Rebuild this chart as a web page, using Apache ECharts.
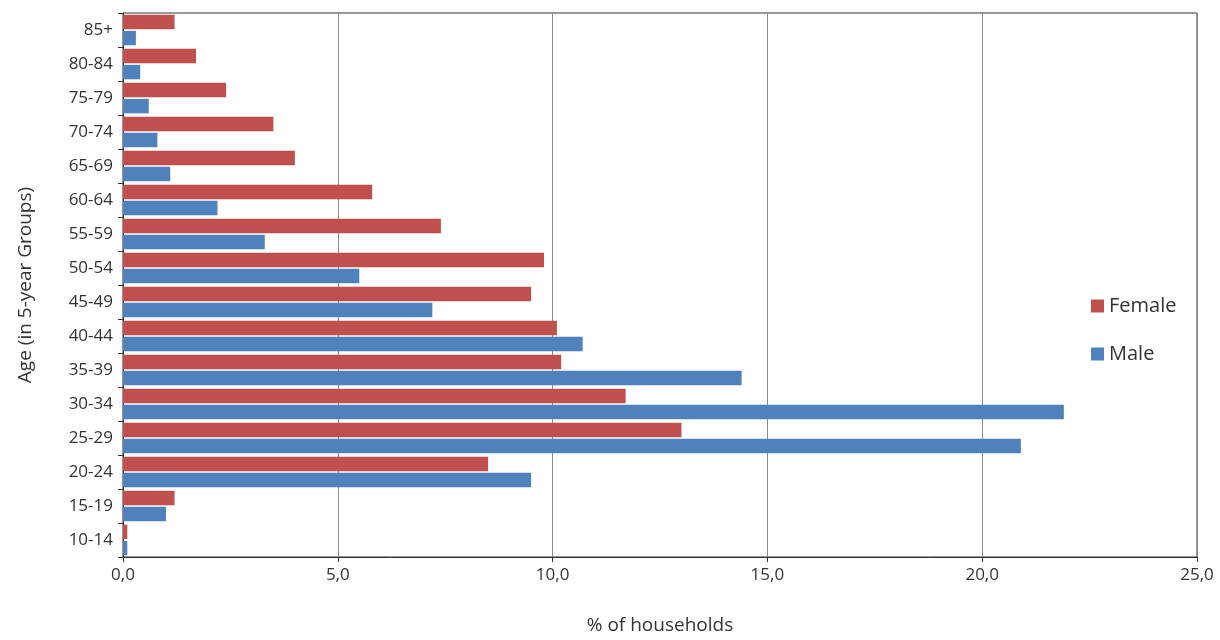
<!DOCTYPE html>
<html>
<head>
<meta charset="utf-8">
<script src="https://cdn.jsdelivr.net/npm/echarts@6/dist/echarts.min.js"></script>
<style>
html,body{margin:0;padding:0;background:#fff;}
#chart{width:1220px;height:640px;}
</style>
</head>
<body>
<div id="chart"></div>
<script>
const categories = ['10-14','15-19','20-24','25-29','30-34','35-39','40-44','45-49','50-54','55-59','60-64','65-69','70-74','75-79','80-84','85+'];
const female = [0.1, 1.2, 8.5, 13.0, 11.7, 10.2, 10.1, 9.5, 9.8, 7.4, 5.8, 4.0, 3.5, 2.4, 1.7, 1.2];
const male   = [0.1, 1.0, 9.5, 20.9, 21.9, 14.4, 10.7, 7.2, 5.5, 3.3, 2.2, 1.1, 0.8, 0.6, 0.4, 0.3];
const xTicks = [0, 5, 10, 15, 20, 25];

const font = '"Open Sans", "Noto Sans", sans-serif';
const txt = '#333';
const chart = echarts.init(document.getElementById('chart'));
chart.setOption({
  animation: false,
  textStyle: { fontFamily: font },
  grid: { left: 123, right: 23, top: 13, bottom: 75, show: true, borderColor: '#333', borderWidth: 1, backgroundColor: 'transparent' },
  legend: {
    orient: 'vertical', left: 1086, top: 291,
    data: ['Female', 'Male'],
    itemWidth: 13, itemHeight: 13, itemGap: 28,
    icon: 'rect',
    textStyle: { fontFamily: font, fontSize: 20, color: txt }
  },
  xAxis: {
    type: 'value', min: xTicks[0], max: xTicks[xTicks.length - 1], interval: 5,
    name: '% of households', nameLocation: 'middle', nameGap: 59,
    nameTextStyle: { fontFamily: font, fontSize: 19, color: txt },
    axisLine: { show: true, lineStyle: { color: '#333', width: 1 } },
    axisTick: { show: true, length: 5, lineStyle: { color: '#333' } },
    axisLabel: { fontFamily: font, fontSize: 17, color: txt, margin: 10,
      formatter: v => v.toFixed(1).replace('.', ',') },
    splitLine: { show: true, lineStyle: { color: '#8c8c8c', width: 1 } }
  },
  yAxis: {
    type: 'category', data: categories,
    name: 'Age (in 5-year Groups)', nameLocation: 'middle', nameGap: 88,
    nameTextStyle: { fontFamily: font, fontSize: 19, color: txt },
    axisLine: { show: true, lineStyle: { color: '#333', width: 1 } },
    axisTick: { show: true, length: 5, lineStyle: { color: '#333' } },
    axisLabel: { fontFamily: font, fontSize: 17, color: txt, margin: 10 },
    splitLine: { show: false }
  },
  series: [
    { name: 'Female', type: 'bar', data: female, itemStyle: { color: '#C0504D' },
      barCategoryGap: '10%', barGap: '12%' },
    { name: 'Male', type: 'bar', data: male, itemStyle: { color: '#4F81BD' },
      barCategoryGap: '10%', barGap: '12%' }
  ]
});
</script>
</body>
</html>
